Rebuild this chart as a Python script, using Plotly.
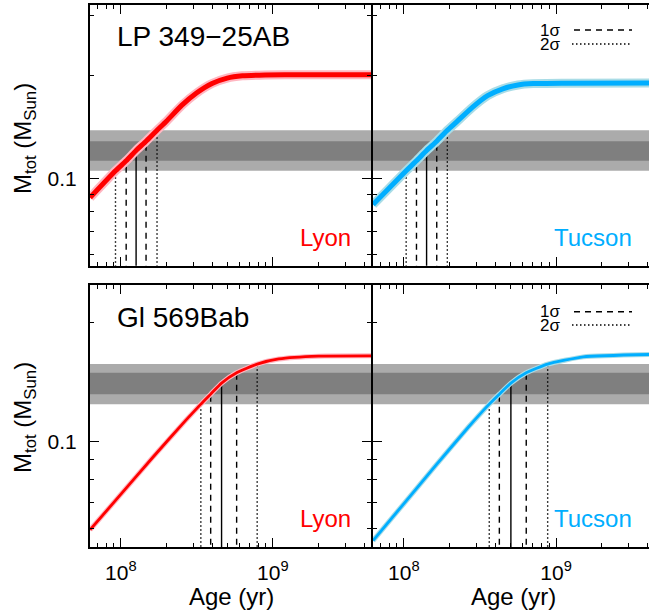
import plotly.graph_objects as go

# ---------------- data ----------------
# LP 349-25AB, Lyon models (age in yr, total mass in Msun)
LP_LYON_AGE = [6.27e7, 9.22e7, 1.084e8, 1.26e8, 1.465e8, 1.73e8, 1.995e8, 2.512e8, 3.162e8,
               3.981e8, 5.012e8, 6.31e8, 8.913e8, 1.585e9, 4.5e9]
LP_LYON_MASS = [0.0880, 0.1054, 0.1127, 0.1208, 0.1286, 0.1384, 0.1470, 0.1635, 0.1780,
                0.1895, 0.1965, 0.1995, 0.2006, 0.2010, 0.2010]
# LP 349-25AB, Tucson models
LP_TUC_AGE = [6.27e7, 1.035e8, 1.21e8, 1.41e8, 1.644e8, 1.93e8, 2.239e8, 2.818e8, 3.548e8,
              4.467e8, 5.623e8, 7.079e8, 1.122e9, 4.5e9]
LP_TUC_MASS = [0.0840, 0.1054, 0.1127, 0.1208, 0.1286, 0.1384, 0.1469, 0.1614, 0.1746,
               0.1828, 0.1876, 0.1893, 0.1898, 0.1900]
# Gl 569Bab, Lyon models
GL_LYON_AGE = [6.27e7, 9.79e7, 1.62e8, 2.68e8, 3.36e8, 3.90e8, 4.60e8, 5.78e8, 7.89e8, 1.094e9, 2.0e9, 4.5e9]
GL_LYON_MASS = [0.0595, 0.0726, 0.0909, 0.1131, 0.1242, 0.1317, 0.1405, 0.1492, 0.1570, 0.1618, 0.1645, 0.1648]
# Gl 569Bab, Tucson models
GL_TUC_AGE = [6.27e7, 9.79e7, 1.61e8, 2.65e8, 3.64e8, 4.24e8, 5.05e8, 6.37e8, 8.81e8, 1.51e9, 4.5e9]
GL_TUC_MASS = [0.0559, 0.0687, 0.0865, 0.1085, 0.1242, 0.1317, 0.1405, 0.1492, 0.1570, 0.1638, 0.1662]

# measured total masses: [-2sig, -1sig, median, +1sig, +2sig]
LP_MASS_BAND = [0.1054, 0.1127, 0.1208, 0.1286, 0.1384]
GL_MASS_BAND = [0.1242, 0.1317, 0.1405, 0.1492, 0.1570]
# inferred ages: [-2sig, -1sig, median, +1sig, +2sig]
LP_LYON_AGES = [9.22e7, 1.084e8, 1.26e8, 1.465e8, 1.73e8]
LP_TUC_AGES = [1.035e8, 1.21e8, 1.41e8, 1.644e8, 1.93e8]
GL_LYON_AGES = [3.36e8, 3.90e8, 4.60e8, 5.78e8, 7.89e8]
GL_TUC_AGES = [3.64e8, 4.24e8, 5.05e8, 6.37e8, 8.81e8]

OBJECTS = ["LP 349\u221225AB", "Gl 569Bab"]
MODELS = ["Lyon", "Tucson"]
X_TICKS = [1e8, 1e9]
X_TICKTEXT = ["10<sup>8</sup>", "10<sup>9</sup>"]
X_MINOR = [7e7, 8e7, 9e7, 2e8, 3e8, 4e8, 5e8, 6e8, 7e8, 8e8, 9e8, 2e9, 3e9, 4e9]
Y_MINOR = [0.06, 0.07, 0.08, 0.09, 0.2, 0.3]

# axis ranges (log10)
X_RANGE_LEFT = [7.797, 9.646]
X_RANGE_RIGHT = [7.797, 9.611]
Y_RANGE_TOP = [-1.254, -0.4935]
Y_RANGE_BOT = [-1.269, -0.603]

# ---------------- style ----------------
FONT = "Liberation Sans, Arial, Helvetica, sans-serif"
RED, PINK = "#FF0000", "#FFB6C1"
BLUE, LBLUE = "#00AEFF", "#A9DCE6"
W, H = 649, 613
ML, MR, MT, MB = 90, 0, 5, 66
PW, PH = W - ML - MR, H - MT - MB


def px(xp):
    return (xp - ML) / PW


def py(yp):
    return (H - MB - yp) / PH


fig = go.Figure()

panels = [
    ("", LP_LYON_AGE, LP_LYON_MASS, LP_MASS_BAND, LP_LYON_AGES, RED, PINK, 5, 9, X_RANGE_LEFT, Y_RANGE_TOP),
    ("2", LP_TUC_AGE, LP_TUC_MASS, LP_MASS_BAND, LP_TUC_AGES, BLUE, LBLUE, 5, 9, X_RANGE_RIGHT, Y_RANGE_TOP),
    ("3", GL_LYON_AGE, GL_LYON_MASS, GL_MASS_BAND, GL_LYON_AGES, RED, PINK, 2.8, 5, X_RANGE_LEFT, Y_RANGE_BOT),
    ("4", GL_TUC_AGE, GL_TUC_MASS, GL_MASS_BAND, GL_TUC_AGES, BLUE, LBLUE, 2.8, 5, X_RANGE_RIGHT, Y_RANGE_BOT),
]

DOT = "1.5px,2.5px"
DASH = "6px,5px"

for suf, ages, masses, band, lages, core, halo, cw, hw, xr, yr in panels:
    xa, ya = "x" + suf, "y" + suf
    x0, x1 = 10 ** (xr[0] - 0.05), 10 ** (xr[1] + 0.05)
    ybot = 10 ** (yr[0] - 0.05)
    for lo, hi, col in [(band[0], band[4], "#ABABAB"), (band[1], band[3], "#7F7F7F")]:
        fig.add_trace(go.Scatter(x=[x0, x1, x1, x0], y=[lo, lo, hi, hi], fill="toself",
                                 fillcolor=col, line=dict(width=0), mode="lines",
                                 xaxis=xa, yaxis=ya, showlegend=False, hoverinfo="skip"))
    styles = [DOT, DASH, "solid", DASH, DOT]
    for a, m, d in zip(lages, band, styles):
        fig.add_trace(go.Scatter(x=[a, a], y=[ybot, m], mode="lines",
                                 line=dict(color="black", width=1.4, dash=d),
                                 xaxis=xa, yaxis=ya, showlegend=False, hoverinfo="skip"))
    fig.add_trace(go.Scatter(x=ages, y=masses, mode="lines",
                             line=dict(color=halo, width=hw, shape="spline", smoothing=0.5),
                             xaxis=xa, yaxis=ya, showlegend=False))
    fig.add_trace(go.Scatter(x=ages, y=masses, mode="lines",
                             line=dict(color=core, width=cw, shape="spline", smoothing=0.5),
                             xaxis=xa, yaxis=ya, showlegend=False))

xdom_l = [0, px(371)]
xdom_r = [px(373), 1]
ydom_t = [py(265.7), 1]
ydom_b = [0, py(285)]

axis_common = dict(type="log", showline=True, linecolor="black", linewidth=2,
                   ticks="inside", ticklen=9, tickwidth=1.3, tickcolor="black",
                   showgrid=False, zeroline=False,
                   tickfont=dict(family=FONT, size=21, color="black"))


def xaxis(dom, rng, anchor, labels):
    d = dict(axis_common)
    d.update(domain=dom, range=rng, anchor=anchor, mirror="allticks",
             tickmode="array", tickvals=X_TICKS,
             ticktext=X_TICKTEXT if labels else ["", ""],
             showticklabels=labels, ticklabelstandoff=6,
             minor=dict(ticks="inside", ticklen=4, tickwidth=1.1, tickcolor="black",
                        tickmode="array", tickvals=X_MINOR, showgrid=False))
    return d


def yaxis(dom, rng, anchor, labels, mirror):
    d = dict(axis_common)
    d.update(domain=dom, range=rng, anchor=anchor, mirror=mirror,
             tickmode="array", tickvals=[0.1], ticktext=["0.1"],
             showticklabels=labels, ticklabelstandoff=7,
             minor=dict(ticks="inside", ticklen=4, tickwidth=1.1, tickcolor="black",
                        tickmode="array", tickvals=Y_MINOR, showgrid=False))
    return d


fig.update_layout(
    width=W, height=H, margin=dict(l=ML, r=MR, t=MT, b=MB),
    paper_bgcolor="white", plot_bgcolor="white",
    font=dict(family=FONT, color="black"),
    xaxis=xaxis(xdom_l, X_RANGE_LEFT, "y", False),
    xaxis2=xaxis(xdom_r, X_RANGE_RIGHT, "y2", False),
    xaxis3=xaxis(xdom_l, X_RANGE_LEFT, "y3", True),
    xaxis4=xaxis(xdom_r, X_RANGE_RIGHT, "y4", True),
    yaxis=yaxis(ydom_t, Y_RANGE_TOP, "x", True, "allticks"),
    yaxis2=yaxis(ydom_t, Y_RANGE_TOP, "x2", False, False),
    yaxis3=yaxis(ydom_b, Y_RANGE_BOT, "x3", True, "allticks"),
    yaxis4=yaxis(ydom_b, Y_RANGE_BOT, "x4", False, False),
    showlegend=False,
)

ann = []
for name, yc in zip(OBJECTS, [36, 317]):
    ann.append(dict(text=name, x=px(115), y=py(yc), xanchor="left", yanchor="middle",
                    font=dict(size=28)))
for yc in [238, 518]:
    ann.append(dict(text=MODELS[0], x=px(353), y=py(yc), xanchor="right", yanchor="middle",
                    font=dict(size=24, color=RED)))
    ann.append(dict(text=MODELS[1], x=px(634), y=py(yc), xanchor="right", yanchor="middle",
                    font=dict(size=24, color=BLUE)))
for yc in [139, 418]:
    ann.append(dict(text="M<sub>tot</sub> (M<sub>Sun</sub>)", x=px(24), y=py(yc), textangle=-90,
                    xanchor="center", yanchor="middle", font=dict(size=24)))
for xc in [231, 513]:
    ann.append(dict(text="Age (yr)", x=px(xc), y=py(596), xanchor="center", yanchor="middle",
                    font=dict(size=24)))
shapes = []
for y1s, y2s in [(30, 44), (311.7, 325)]:
    ann.append(dict(text="1\u03c3", x=px(562), y=py(y1s), xanchor="right", yanchor="middle",
                    font=dict(size=17)))
    ann.append(dict(text="2\u03c3", x=px(562), y=py(y2s), xanchor="right", yanchor="middle",
                    font=dict(size=17)))
    shapes.append(dict(type="line", xref="paper", yref="paper", x0=px(574), x1=px(632),
                       y0=py(y1s), y1=py(y1s), line=dict(color="black", width=1.4, dash=DASH)))
    shapes.append(dict(type="line", xref="paper", yref="paper", x0=px(572), x1=px(632),
                       y0=py(y2s), y1=py(y2s), line=dict(color="black", width=1.4, dash=DOT)))

for a in ann:
    a.update(xref="paper", yref="paper", showarrow=False)
    a["font"].setdefault("color", "black")
    a["font"]["family"] = FONT

fig.update_layout(annotations=ann, shapes=shapes)
fig.write_html("out.html", config={"displayModeBar": False},
               post_script="document.body.style.margin='0px';")
